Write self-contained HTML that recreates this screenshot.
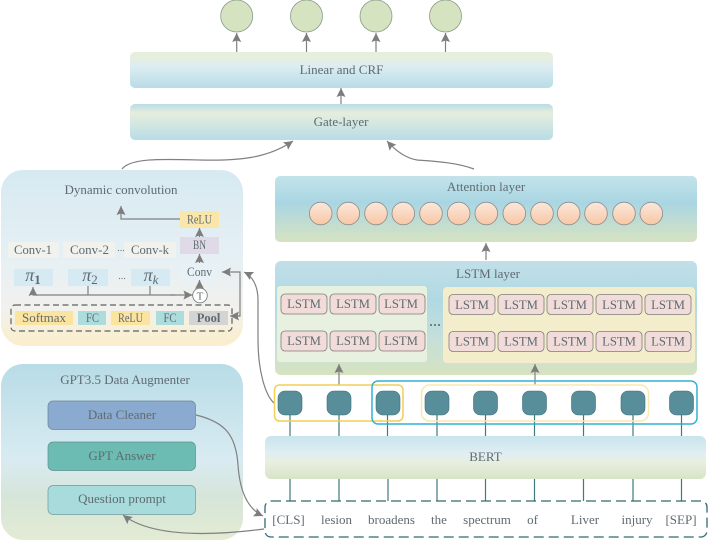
<!DOCTYPE html>
<html><head><meta charset="utf-8"><style>
html,body{margin:0;padding:0;background:#fff}
svg{display:block}
text{font-family:"Liberation Serif",serif;fill:#5f6b70;text-anchor:middle;font-size:13px}
.l{fill:none;stroke:#808080;stroke-width:1.2}
.t{stroke:#3f7a80;stroke-width:1.2}
.ls{fill:#f2dcd9;stroke:#7d7d7d;stroke-width:.8}
.k{font-size:12.7px}
</style></head><body>
<svg width="709" height="541" viewBox="0 0 709 541" xmlns="http://www.w3.org/2000/svg">
<defs>
<marker id="a" markerUnits="userSpaceOnUse" markerWidth="10" markerHeight="10" refX="9" refY="4.500" orient="auto"><path d="M0 0L9 4.500L0 9L1.500 4.500Z" fill="#7d7d7d"/></marker>
<linearGradient id="g1" x1="0" y1="0" x2="0" y2="1"><stop offset=".15" stop-color="#e6eedd"/><stop offset=".4" stop-color="#dcedf3"/><stop offset="1" stop-color="#b8dce6"/></linearGradient>
<linearGradient id="g2" x1="0" y1="0" x2="0" y2="1"><stop offset="0" stop-color="#b8dce6"/><stop offset=".25" stop-color="#e6eedd"/><stop offset="1" stop-color="#b8dce6"/></linearGradient>
<linearGradient id="g3" x1="0" y1="0" x2="0" y2="1"><stop offset="0" stop-color="#c4e3ea"/><stop offset=".4" stop-color="#a9d6e3"/><stop offset=".7" stop-color="#c0dcd2"/><stop offset="1" stop-color="#d6e3c2"/></linearGradient>
<linearGradient id="g4" x1="0" y1="0" x2="0" y2="1"><stop offset="0" stop-color="#c8e4ec"/><stop offset=".4" stop-color="#dfeef3"/><stop offset=".6" stop-color="#e8efe0"/><stop offset="1" stop-color="#d8e4c8"/></linearGradient>
<linearGradient id="g5" x1="0" y1="0" x2="0" y2="1"><stop offset="0" stop-color="#d6eaf1"/><stop offset=".5" stop-color="#e6f0f4"/><stop offset=".78" stop-color="#f1f1ee"/><stop offset="1" stop-color="#fbeecb"/></linearGradient>
<linearGradient id="g6" x1="0" y1="0" x2="0" y2="1"><stop offset="0" stop-color="#b8dce6"/><stop offset=".55" stop-color="#d9ebf2"/><stop offset=".75" stop-color="#d6e5d9"/><stop offset="1" stop-color="#e3ebd3"/></linearGradient>
<linearGradient id="g7" x1="0" y1="0" x2="0" y2="1"><stop offset="0" stop-color="#c2dfe8"/><stop offset=".35" stop-color="#b0d9e3"/><stop offset=".7" stop-color="#c6dfd8"/><stop offset="1" stop-color="#d6e3c0"/></linearGradient>
<linearGradient id="g8" x1="0" y1="0" x2="0" y2="1"><stop offset="0" stop-color="#fbe8dc"/><stop offset="1" stop-color="#f8c7a4"/></linearGradient>
</defs>

<!-- output circles -->
<g fill="#d6e3c0" stroke="#8a9a8a" stroke-width=".8">
<circle cx="236.700" cy="16" r="16"/><circle cx="306.500" cy="16" r="16"/><circle cx="376" cy="16" r="16"/><circle cx="445.500" cy="16" r="16"/>
</g>
<path class="l" d="M236.700 52V33" marker-end="url(#a)"/><path class="l" d="M306.500 52V33" marker-end="url(#a)"/><path class="l" d="M376 52V33" marker-end="url(#a)"/><path class="l" d="M445.500 52V33" marker-end="url(#a)"/>
<path class="l" d="M341 104V88" marker-end="url(#a)"/>

<rect x="130" y="52" width="423" height="36" rx="5" fill="url(#g1)"/>
<text x="341.500" y="74">Linear and CRF</text>
<rect x="130" y="104" width="423" height="36" rx="5" fill="url(#g2)"/>
<text x="341" y="126">Gate-layer</text>

<path class="l" d="M122 169C131 158 160 159 200 160S268 158 293 141" marker-end="url(#a)"/>
<path class="l" d="M474 169C455 162 430 161 417 160C405 158 395 150 387 141" marker-end="url(#a)"/>

<!-- dynamic conv panel -->
<rect x="1" y="170" width="242" height="176" rx="22" fill="url(#g5)"/>
<text x="121" y="194">Dynamic convolution</text>
<g fill="#f1f1ee">
<rect x="8" y="242" width="51" height="16"/><rect x="63" y="242" width="52" height="16"/><rect x="124" y="242" width="52" height="16"/>
</g>
<text x="33" y="254" textLength="38" lengthAdjust="spacingAndGlyphs">Conv-1</text><text x="89.500" y="254" textLength="39" lengthAdjust="spacingAndGlyphs">Conv-2</text><text x="150" y="254" textLength="38" lengthAdjust="spacingAndGlyphs">Conv-k</text>
<g fill="#6a7579"><circle cx="118.500" cy="250.500" r=".6"/><circle cx="121" cy="250.500" r=".6"/><circle cx="123.500" cy="250.500" r=".6"/>
<circle cx="119.500" cy="278.500" r=".6"/><circle cx="122" cy="278.500" r=".6"/><circle cx="124.500" cy="278.500" r=".6"/></g>
<g fill="#d6eaf3">
<rect x="14" y="269" width="39" height="17"/><rect x="68" y="269" width="40" height="17"/><rect x="131" y="269" width="39" height="17"/>
</g>
<text x="33" y="281" style="font-size:18px;font-style:italic">π<tspan dy="3" style="font-size:13px;font-weight:bold;font-style:normal">1</tspan></text>
<text x="90" y="281" style="font-size:18px;font-style:italic">π<tspan dy="3" style="font-size:13px;font-style:normal">2</tspan></text>
<text x="151" y="281" style="font-size:18px;font-style:italic">π<tspan dy="3" style="font-size:13px">k</tspan></text>
<rect x="180" y="211" width="39" height="17" fill="#fae6a8"/>
<text x="199.500" y="223.500" textLength="25" lengthAdjust="spacingAndGlyphs">ReLU</text>
<rect x="180" y="237" width="39" height="17" fill="#e0d9e8"/>
<text x="199.500" y="249" textLength="13" lengthAdjust="spacingAndGlyphs">BN</text>
<rect x="180" y="264" width="39" height="17" fill="#e8f2f6"/>
<text x="199.500" y="276" textLength="25" lengthAdjust="spacingAndGlyphs">Conv</text>
<path class="l" d="M180 219H121V206" marker-end="url(#a)"/>
<path class="l" d="M199.500 237V228" marker-end="url(#a)"/>
<path class="l" d="M199.500 263V254" marker-end="url(#a)"/>
<path class="l" d="M199.500 288V280" marker-end="url(#a)"/>
<circle cx="200" cy="295.500" r="7.300" fill="#fff" stroke="#808080" stroke-width=".9"/>
<text x="200" y="299.500" style="font-size:11px">T</text>
<path class="l" d="M170 295H192.500" marker-end="url(#a)"/>
<path class="l" d="M175 295H33V287" marker-end="url(#a)"/>
<path class="l" d="M88 286V295M150 286V295"/>
<rect x="11" y="305" width="221" height="26" rx="4" fill="none" stroke="#5f5f5f" stroke-width="1.200" stroke-dasharray="6 3.500"/>
<rect x="15" y="311" width="58" height="14" fill="#fbe3a0"/>
<rect x="78" y="311" width="28" height="14" fill="#acdcdc"/>
<rect x="111" y="311" width="39" height="14" fill="#fbe3a0"/>
<rect x="156" y="311" width="28" height="14" fill="#acdcdc"/>
<rect x="189" y="311" width="39" height="14" fill="#d4d4d4"/>
<text x="44" y="322" textLength="44" lengthAdjust="spacingAndGlyphs">Softmax</text><text x="92.500" y="322" textLength="13" lengthAdjust="spacingAndGlyphs">FC</text><text x="130.500" y="322" textLength="25" lengthAdjust="spacingAndGlyphs">ReLU</text><text x="170" y="322" textLength="13" lengthAdjust="spacingAndGlyphs">FC</text>
<text x="208.500" y="322" style="font-weight:bold;font-size:12.500px">Pool</text>
<path class="l" d="M231 316H240V272H222" marker-end="url(#a)"/>
<path class="l" d="M240 316H230" marker-end="url(#a)"/>
<path class="l" d="M274 403C265 395 258 370 258 340V300C258 285 252 276 244 272" marker-end="url(#a)"/>

<!-- Attention -->
<rect x="275" y="176" width="422" height="66" rx="5" fill="url(#g3)"/>
<text x="486" y="191">Attention layer</text>
<g fill="url(#g8)" stroke="#8a8a8a" stroke-width=".8">
<circle cx="320.700" cy="213.500" r="11.300"/><circle cx="348.300" cy="213.500" r="11.300"/><circle cx="376" cy="213.500" r="11.300"/><circle cx="403.300" cy="213.500" r="11.300"/><circle cx="431" cy="213.500" r="11.300"/><circle cx="458.700" cy="213.500" r="11.300"/><circle cx="486.300" cy="213.500" r="11.300"/><circle cx="514.300" cy="213.500" r="11.300"/><circle cx="542" cy="213.500" r="11.300"/><circle cx="568.700" cy="213.500" r="11.300"/><circle cx="596" cy="213.500" r="11.300"/><circle cx="624" cy="213.500" r="11.300"/><circle cx="651.300" cy="213.500" r="11.300"/>
</g>
<path class="l" d="M486 260V243" marker-end="url(#a)"/>

<!-- LSTM -->
<rect x="275" y="261" width="422" height="114" rx="6" fill="url(#g7)"/>
<text x="488" y="278">LSTM layer</text>
<rect x="277" y="286" width="150" height="76" rx="3" fill="#e8f0e0"/>
<rect x="443" y="287" width="252" height="76" rx="4" fill="#f3edcc"/>
<g class="ls">
<rect x="281" y="294" width="46" height="20" rx="4"/><rect x="330" y="294" width="46" height="20" rx="4"/><rect x="379" y="294" width="46" height="20" rx="4"/>
<rect x="281" y="331" width="46" height="20" rx="4"/><rect x="330" y="331" width="46" height="20" rx="4"/><rect x="379" y="331" width="46" height="20" rx="4"/>
<rect x="449" y="294.500" width="46" height="20" rx="4"/><rect x="498" y="294.500" width="46" height="20" rx="4"/><rect x="547" y="294.500" width="46" height="20" rx="4"/><rect x="596" y="294.500" width="46" height="20" rx="4"/><rect x="645" y="294.500" width="46" height="20" rx="4"/>
<rect x="449" y="331.500" width="46" height="20" rx="4"/><rect x="498" y="331.500" width="46" height="20" rx="4"/><rect x="547" y="331.500" width="46" height="20" rx="4"/><rect x="596" y="331.500" width="46" height="20" rx="4"/><rect x="645" y="331.500" width="46" height="20" rx="4"/>
</g>
<text class="k" x="304" y="308">LSTM</text><text class="k" x="353" y="308">LSTM</text><text class="k" x="401" y="308">LSTM</text>
<text class="k" x="304" y="345">LSTM</text><text class="k" x="353" y="345">LSTM</text><text class="k" x="401" y="345">LSTM</text>
<text class="k" x="472" y="309">LSTM</text><text class="k" x="521" y="309">LSTM</text><text class="k" x="570" y="309">LSTM</text><text class="k" x="619" y="309">LSTM</text><text class="k" x="668" y="309">LSTM</text>
<text class="k" x="472" y="345.500">LSTM</text><text class="k" x="521" y="345.500">LSTM</text><text class="k" x="570" y="345.500">LSTM</text><text class="k" x="619" y="345.500">LSTM</text><text class="k" x="668" y="345.500">LSTM</text>
<g fill="#55656b"><circle cx="431" cy="325" r="1"/><circle cx="435" cy="325" r="1"/><circle cx="439" cy="325" r="1"/></g>
<path class="l" d="M339 385V364" marker-end="url(#a)"/>
<path class="l" d="M535 385V364" marker-end="url(#a)"/>

<!-- connectors tokens -->
<path class="t" d="M290 415V436M339 415V436M387.500 415V436M437 415V436M485.500 415V436M534.500 415V436M583.500 415V436M633 415V436M681.500 415V436"/>
<path class="t" d="M290 479V501M339 479V501M388 479V501M437 479V501M485.500 479V501M534.500 479V501M583.500 479V501M633 479V501M681.500 479V501"/>

<rect x="274.500" y="385" width="128.500" height="36" rx="5" fill="none" stroke="#f2cf55" stroke-width="1.500"/>
<rect x="421.500" y="385" width="227" height="36" rx="8" fill="none" stroke="#f8e9b0" stroke-width="1.500"/>
<rect x="372" y="381" width="325" height="43" rx="6" fill="none" stroke="#35b0d5" stroke-width="1.500"/>
<g fill="#578e9a" stroke="#3f7078" stroke-width=".6">
<rect x="278" y="391" width="24" height="24" rx="7"/><rect x="327" y="391" width="24" height="24" rx="7"/><rect x="376" y="391" width="24" height="24" rx="7"/><rect x="425" y="391" width="24" height="24" rx="7"/><rect x="473.500" y="391" width="24" height="24" rx="7"/><rect x="522.500" y="391" width="24" height="24" rx="7"/><rect x="571.500" y="391" width="24" height="24" rx="7"/><rect x="621" y="391" width="24" height="24" rx="7"/><rect x="669.500" y="391" width="24" height="24" rx="7"/>
</g>

<!-- BERT -->
<rect x="265" y="436" width="441" height="43" rx="6" fill="url(#g4)"/>
<text x="485.500" y="461">BERT</text>
<rect x="265" y="501" width="442" height="36" rx="6" fill="#fff" stroke="#2f6a72" stroke-width="1.300" stroke-dasharray="10 5"/>
<text x="288.500" y="524">[CLS]</text><text x="336.500" y="524">lesion</text><text x="391.500" y="524">broadens</text><text x="439" y="524">the</text><text x="487" y="524">spectrum</text><text x="532.500" y="524">of</text><text x="585" y="524">Liver</text><text x="637" y="524">injury</text><text x="681" y="524">[SEP]</text>

<!-- GPT panel -->
<rect x="1" y="364" width="242" height="176" rx="22" fill="url(#g6)"/>
<text x="125" y="384">GPT3.5 Data Augmenter</text>
<rect x="48" y="401" width="147.500" height="28.500" rx="5" fill="#8aaad0" stroke="#6f8398" stroke-width=".7"/>
<text x="122" y="419">Data Cleaner</text>
<rect x="48" y="442" width="147.500" height="28.500" rx="5" fill="#6dbcb3" stroke="#5e8f8a" stroke-width=".7"/>
<text x="122" y="460">GPT Answer</text>
<rect x="48" y="485.500" width="147.500" height="29" rx="5" fill="#a8dbdc" stroke="#6f9a9c" stroke-width=".7"/>
<text x="122" y="503">Question prompt</text>
<path class="l" d="M196 415C225 422 236 435 238 465C240 495 250 510 263 516" marker-end="url(#a)"/>
<path class="l" d="M264 529C225 534 155 540 123 515" marker-end="url(#a)"/>
</svg>
</body></html>
